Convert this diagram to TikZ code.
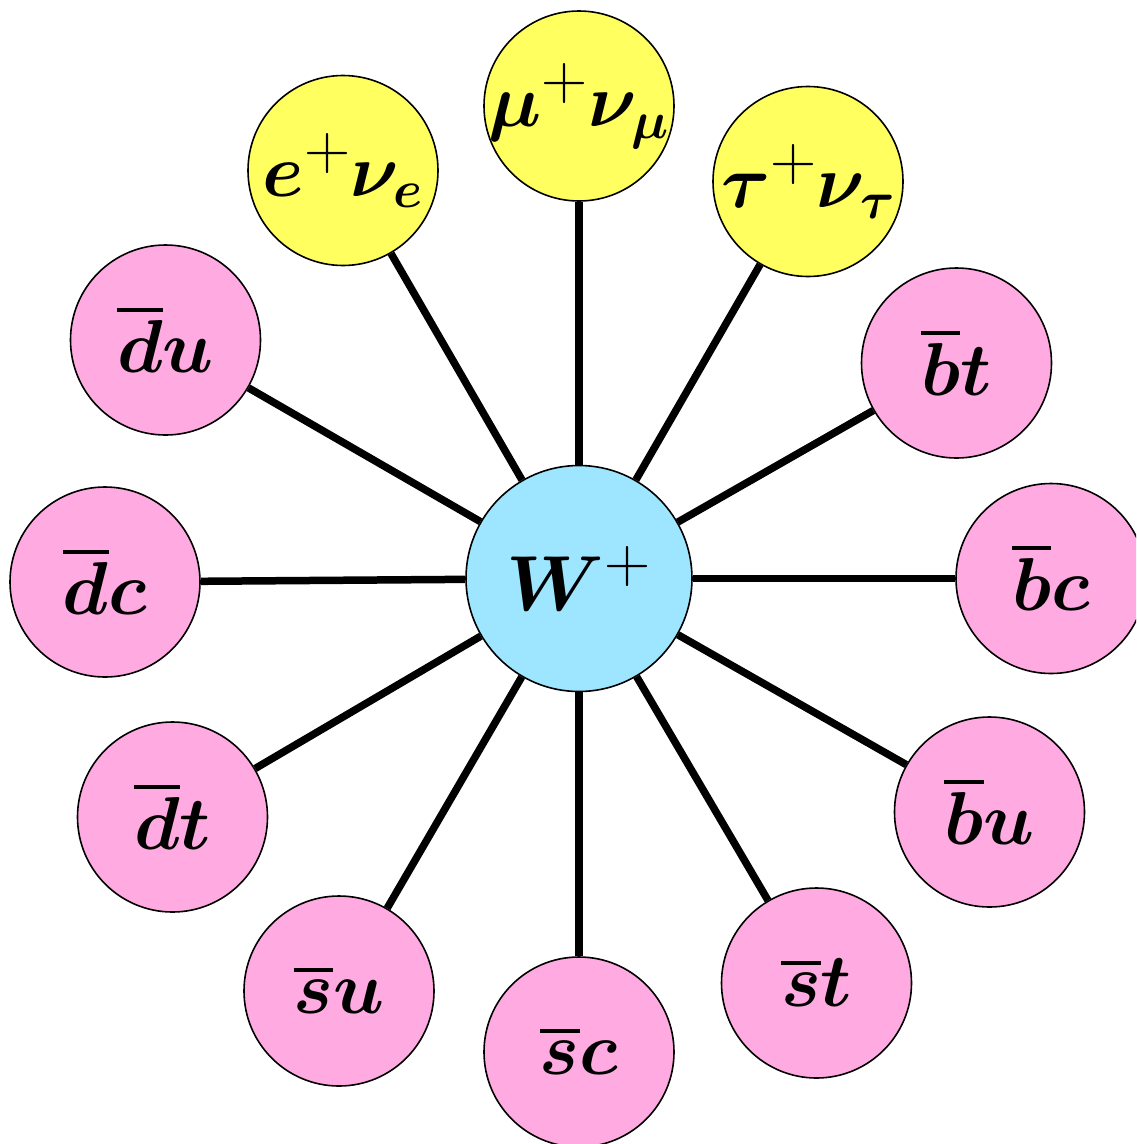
\documentclass[tikz,border=0pt]{standalone}
\usepackage{fix-cm}
\usepackage{amsmath,bm}
\definecolor{lep}{RGB}{255,255,96}
\definecolor{qk}{RGB}{255,170,225}
\definecolor{wb}{RGB}{158,230,255}
\newcommand{\ovb}[1]{\mathord{\vbox{\hrule height 4pt\kern 8.5pt\hbox{$\bm{#1}$}}}}
\newcommand{\bigplus}{^{\mbox{\fontsize{64}{64}\selectfont$+$}}}
\newcommand{\lab}[1]{\makebox[0pt]{$#1$}}
\tikzset{
  part/.style={circle, draw=black, line width=1.6pt, minimum size=190pt, inner sep=0pt, font=\fontsize{75}{90}\selectfont},
  lepton/.style={part, fill=lep},
  quark/.style={part, fill=qk},
  boson/.style={part, fill=wb, minimum size=226pt, font=\fontsize{78}{94}\selectfont},
  link/.style={line width=7.5pt}
}
\begin{document}
\begin{tikzpicture}[x=1pt,y=-1pt]
\clip (0,0) rectangle (1136,1144);
\fill[white] (0,0) rectangle (1136,1144);
\node[boson] (W) at (579,578.5) {\lab{\bm{W}\bigplus}};
\node[lepton] (e) at (343,170.5) {\lab{\bm{e}\bigplus\bm{\nu}_{\bm{e}}}};
\node[lepton] (mu) at (579,106) {\lab{\bm{\mu}\bigplus\bm{\nu}_{\bm{\mu}}}};
\node[lepton] (tau) at (808,181.5) {\lab{\bm{\tau}\bigplus\bm{\nu}_{\bm{\tau}}}};
\node[quark] (bt) at (956.5,363) {\lab{\ovb{b}\bm{t}}};
\node[quark] (bc) at (1051,578.5) {\lab{\ovb{b}\bm{c}}};
\node[quark] (bu) at (989.5,812) {\lab{\ovb{b}\bm{u}}};
\node[quark] (st) at (816.5,983) {\lab{\ovb{s}\bm{t}}};
\node[quark] (sc) at (579,1052) {\lab{\ovb{s}\bm{c}}};
\node[quark] (su) at (339,991) {\lab{\ovb{s}\bm{u}}};
\node[quark] (dt) at (172.5,817) {\lab{\ovb{d}\bm{t}}};
\node[quark] (dc) at (105,582) {\lab{\ovb{d}\bm{c}}};
\node[quark] (du) at (165.5,340) {\lab{\ovb{d}\bm{u}}};
\foreach \n in {e,mu,tau,bt,bc,bu,st,sc,su,dt,dc,du}
  \draw[link] (W) -- (\n);
\end{tikzpicture}
\end{document}
